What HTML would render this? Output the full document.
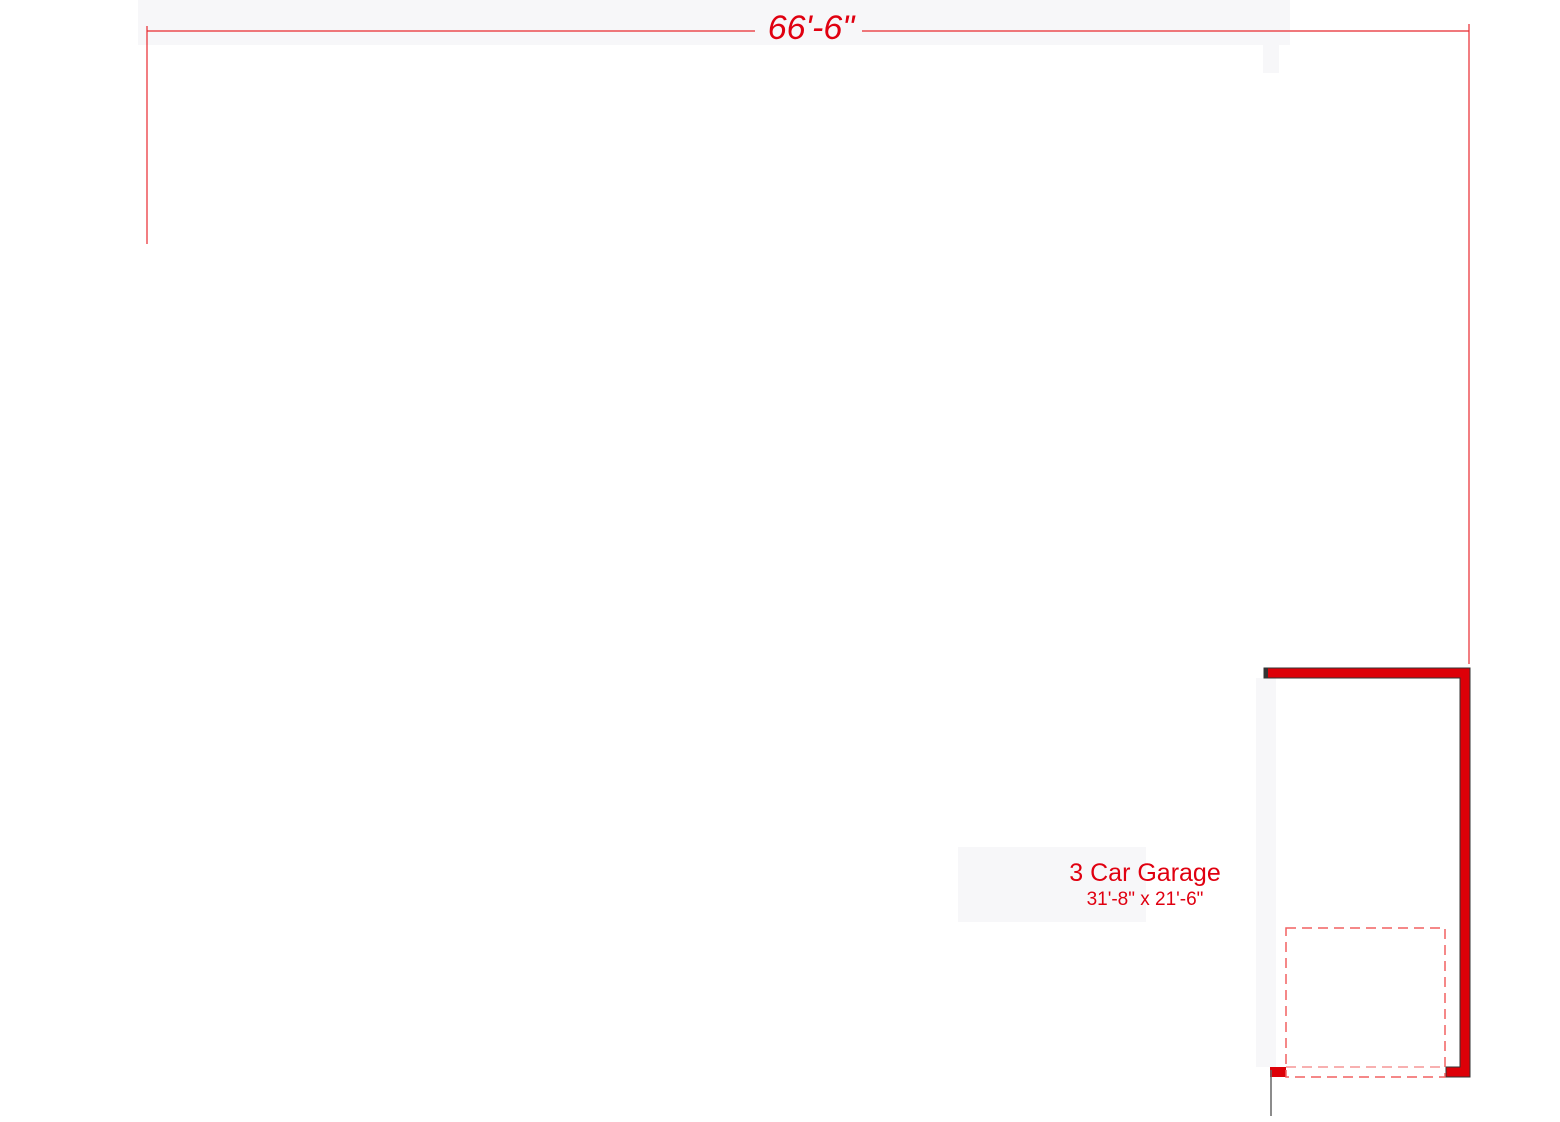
<!DOCTYPE html><html><head><style>body{margin:0;background:#fff}</style></head><body>
<svg width="1560" height="1117" xmlns="http://www.w3.org/2000/svg">
<rect x="138" y="0" width="1152" height="45" fill="#f7f7f9"/>
<rect x="1263" y="45" width="16" height="28" fill="#f7f7f9"/>
<rect x="958" y="847" width="188" height="75" fill="#f7f7f9"/>
<rect x="1256" y="678" width="20" height="389" fill="#f7f7f9"/>
<g stroke="#e8282e" stroke-width="1.2">
<line x1="147" y1="31" x2="755" y2="31"/><line x1="862" y1="31" x2="1469" y2="31"/>
<line x1="147" y1="26" x2="147" y2="244"/><line x1="1469" y1="24" x2="1469" y2="664"/>
</g>
<text x="811" y="39" text-anchor="middle" font-family="Liberation Sans, sans-serif" font-style="italic" font-size="34" fill="#e00010">66'-6"</text>
<path d="M1264 668 H1470 V1077 H1446 V1067 H1460 V678 H1264 Z" fill="#dd0008" stroke="#333" stroke-width="1"/>
<rect x="1270" y="1067" width="16" height="10" fill="#dd0008"/>
<rect x="1264" y="668" width="4" height="10" fill="#333"/>
<line x1="1271" y1="1070" x2="1271" y2="1116" stroke="#666" stroke-width="1.5"/>
<rect x="1286" y="928" width="159" height="149" fill="none" stroke="#f26060" stroke-width="1.5" stroke-dasharray="10,6"/>
<line x1="1286" y1="1067" x2="1445" y2="1067" stroke="#f26060" stroke-width="1" stroke-dasharray="10,6"/>
<text x="1145" y="881" text-anchor="middle" font-family="Liberation Sans, sans-serif" font-size="25" fill="#e00010">3 Car Garage</text>
<text x="1145" y="905" text-anchor="middle" font-family="Liberation Sans, sans-serif" font-size="19" fill="#e00010">31'-8" x 21'-6"</text>
</svg></body></html>
